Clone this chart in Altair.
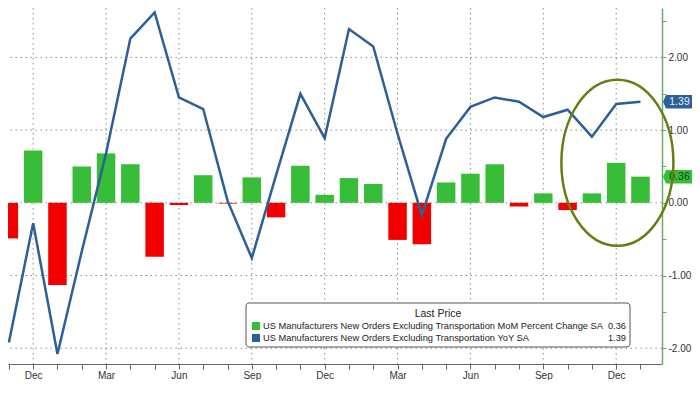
import altair as alt
import pandas as pd

# ---- data ----
months = ["Nov", "Dec", "Jan", "Feb", "Mar", "Apr", "May", "Jun", "Jul", "Aug", "Sep", "Oct",
          "Nov", "Dec", "Jan", "Feb", "Mar", "Apr", "May", "Jun", "Jul", "Aug", "Sep", "Oct",
          "Nov", "Dec", "Jan"]
mom = [-0.49, 0.72, -1.13, 0.50, 0.68, 0.53, -0.74, -0.03, 0.38, -0.01, 0.35, -0.20,
       0.51, 0.11, 0.34, 0.26, -0.51, -0.57, 0.28, 0.40, 0.53, -0.05, 0.13, -0.10,
       0.13, 0.55, 0.36]
yoy = [-1.92, -0.28, -2.08, -0.67, 0.68, 2.26, 2.62, 1.45, 1.29, 0.03, -0.76, 0.38,
       1.50, 0.89, 2.39, 2.15, 0.95, -0.17, 0.88, 1.32, 1.45, 1.39, 1.18, 1.28,
       0.91, 1.36, 1.39]
quarter_idx = [1, 4, 7, 10, 13, 16, 19, 22, 25]
y_major = [-2, -1, 0, 1, 2]
y_minor = [-1.5, -0.5, 0.5, 1.5, 2.5]
legend_names = ["US Manufacturers New Orders Excluding Transportation MoM Percent Change SA",
                "US Manufacturers New Orders Excluding Transportation YoY SA"]

GREEN = "#38bd38"
RED = "#f20000"
BLUE = "#2d5f99"
AXGREEN = "#6aab6a"
OLIVE = "#667f14"
FONT = "Liberation Sans"

W, H = 654, 356

df = pd.DataFrame({"i": list(range(len(months))), "month": months, "mom": mom, "yoy": yoy})

xscale = alt.Scale(domain=[0.17, 26.68], nice=False, zero=False)
yscale = alt.Scale(domain=[-2.217, 2.68], nice=False, zero=False)

x_label_expr = " : ".join(f"datum.value == {q} ? '{months[q]}'" for q in quarter_idx) + " : ''"

XAX = alt.Axis(values=list(range(len(months))), labelExpr=x_label_expr, grid=False,
               tickSize=5, tickColor="#666", domainColor="#666", labelColor="#333",
               labelFontSize=10, labelFont=FONT, title=None, labelPadding=1)
YAX = alt.Axis(orient="right", values=y_major + y_minor,
               labelExpr="datum.value % 1 == 0 ? replace(format(datum.value, '.2f'), '\u2212', '-') : ''",
               grid=False, tickSize=4, tickColor=AXGREEN, domainColor=AXGREEN, domainWidth=1.5,
               labelColor="#333", labelFontSize=10, labelFont=FONT, title=None, labelPadding=2)


def X(field):
    return alt.X(field, scale=xscale, axis=XAX)


def Y(field):
    return alt.Y(field, scale=yscale, axis=YAX)


vgrid = alt.Chart(pd.DataFrame({"g": quarter_idx})).mark_rule(
    color="#8c8c8c", strokeDash=[1.5, 3.5], strokeWidth=1
).encode(x=X("g:Q"))

hgrid = alt.Chart(pd.DataFrame({"v": y_major})).mark_rule(
    color="#8c8c8c", strokeDash=[1.5, 3.5], strokeWidth=1
).encode(y=Y("v:Q"))

bars = alt.Chart(df).mark_bar(width=18.5, clip=True).encode(
    x=X("i:Q"),
    y=Y("mom:Q"),
    y2=alt.datum(0),
    color=alt.condition("datum.mom >= 0", alt.value(GREEN), alt.value(RED)),
)

line = alt.Chart(df).mark_line(clip=True, color=BLUE, strokeWidth=2.5).encode(
    x=X("i:Q"),
    y=Y("yoy:Q"),
)

# last-price tags on the right axis
tags = pd.DataFrame({
    "v": [yoy[-1], mom[-1]],
    "txt": [f"{yoy[-1]:.2f}", f"{mom[-1]:.2f}"],
    "fill": [BLUE, GREEN],
    "tc": ["#e8eef8", "#1c3a1c"],
})
TAG = "M-1,0 L-0.8,-0.45 L1,-0.45 L1,0.45 L-0.8,0.45 Z"
tag_box = alt.Chart(tags).mark_point(shape=TAG, size=30 * 30, filled=True, opacity=1).encode(
    x=alt.value(W + 16),
    y=Y("v:Q"),
    color=alt.Color("fill:N", scale=None),
)
tag_txt = alt.Chart(tags).mark_text(fontSize=10.5, font=FONT, align="center", baseline="middle").encode(
    x=alt.value(W + 17.5),
    y=Y("v:Q"),
    text="txt:N",
    color=alt.Color("tc:N", scale=None),
)

# highlight ellipse around the latest months
ELLIPSE = "M-0.675,0 A0.675,1 0 1,1 0.675,0 A0.675,1 0 1,1 -0.675,0 Z"
ell = alt.Chart(pd.DataFrame({"x": [25.05], "y": [0.55]})).mark_point(
    shape=ELLIPSE, size=166 * 166, filled=False, stroke=OLIVE, strokeWidth=2.5, opacity=1
).encode(
    x=X("x:Q"),
    y=Y("y:Q"),
)

# custom legend box
one = pd.DataFrame({"a": [0]})
leg_box = alt.Chart(one).mark_rect(fill="white", stroke="#555", strokeWidth=1, cornerRadius=3).encode(
    x=alt.value(238), x2=alt.value(622), y=alt.value(295), y2=alt.value(339)
)
leg_title = alt.Chart(one).mark_text(text="Last Price", fontSize=10.5, font=FONT, color="#222",
                                     align="center", baseline="middle").encode(
    x=alt.value(430), y=alt.value(306)
)
leg_layers = [leg_box, leg_title]
for k, (name, val, col) in enumerate(zip(legend_names, [mom[-1], yoy[-1]], [GREEN, BLUE])):
    yy = 318 + 12 * k
    leg_layers.append(alt.Chart(one).mark_square(size=64, filled=True, color=col, opacity=1).encode(
        x=alt.value(248), y=alt.value(yy)))
    leg_layers.append(alt.Chart(one).mark_text(text=name, fontSize=9.3, font=FONT, color="#222",
                                               align="left", baseline="middle").encode(
        x=alt.value(255), y=alt.value(yy)))
    leg_layers.append(alt.Chart(one).mark_text(text=f"{val:.2f}", fontSize=9.3, font=FONT, color="#222",
                                               align="right", baseline="middle").encode(
        x=alt.value(618), y=alt.value(yy)))

chart = alt.layer(vgrid, hgrid, bars, line, *leg_layers, tag_box, tag_txt, ell).properties(
    width=W, height=H, background="white",
    autosize=alt.AutoSizeParams(type="none"),
    padding={"left": 0, "top": 0, "right": 30, "bottom": 16},
).configure_view(stroke=None)

chart.save("out.html", embed_options={"renderer": "svg", "actions": False})
